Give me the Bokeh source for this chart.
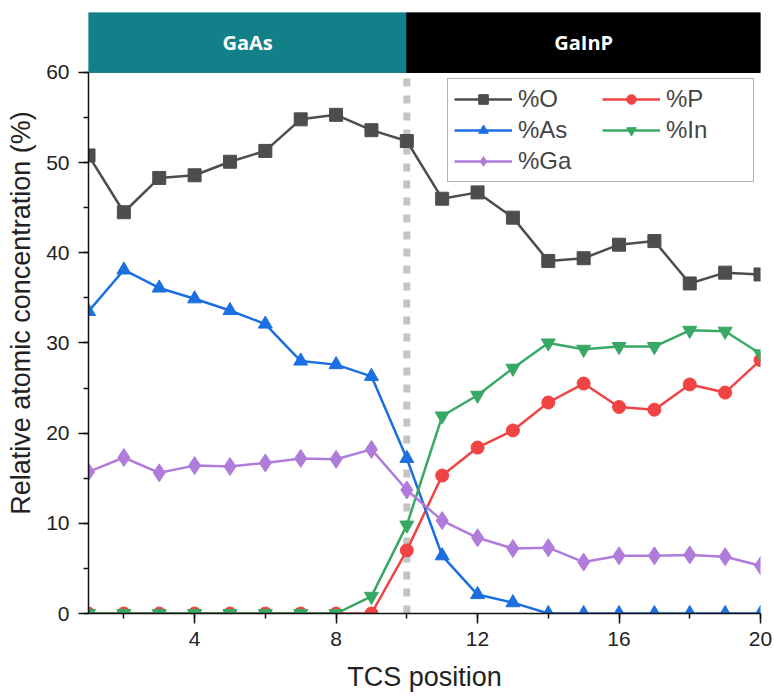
from bokeh.plotting import figure
from bokeh.models import (Range1d, Legend, LegendItem, SingleIntervalTicker, ColumnDataSource)
from bokeh.core.properties import value
from bokeh.embed import file_html
from bokeh.resources import INLINE

# ---- data ----
tcs = list(range(1, 21))
pct_O = [50.8, 44.5, 48.3, 48.6, 50.1, 51.3, 54.8, 55.3, 53.6, 52.4,
         46.0, 46.7, 43.9, 39.1, 39.4, 40.9, 41.3, 36.6, 37.8, 37.6]
pct_P = [0, 0, 0, 0, 0, 0, 0, 0, 0, 7.0,
         15.3, 18.4, 20.3, 23.4, 25.5, 22.9, 22.6, 25.4, 24.5, 28.1]
pct_As = [33.5, 38.1, 36.1, 34.9, 33.6, 32.1, 28.0, 27.6, 26.3, 17.2,
          6.4, 2.1, 1.2, 0, 0, 0, 0, 0, 0, 0]
pct_In = [0, 0, 0, 0, 0, 0, 0, 0, 1.9, 9.8,
          21.9, 24.2, 27.2, 30.0, 29.3, 29.6, 29.6, 31.4, 31.3, 28.8]
pct_Ga = [15.7, 17.3, 15.6, 16.4, 16.3, 16.7, 17.2, 17.1, 18.2, 13.7,
          10.3, 8.4, 7.2, 7.3, 5.7, 6.4, 6.4, 6.5, 6.3, 5.3]
regions = ["GaAs", "GaInP"]
region_start = [1, 10]
region_end = [10, 20]
boundary = 10
y_max = 60

# ---- layout constants ----
W, H = 774, 698
BANNER = 6.65   # banner height in y units above the axis top
FONT = "Liberation Sans"

p = figure(width=W, height=H, output_backend="svg", toolbar_location=None,
           x_range=Range1d(1, 20), y_range=Range1d(0, y_max + BANNER),
           min_border_left=88, min_border_right=14, min_border_top=12, min_border_bottom=85)
p.outline_line_color = None
p.xgrid.visible = False
p.ygrid.visible = False
p.background_fill_color = "white"

# dotted boundary
p.segment(x0=[boundary], y0=[0], x1=[boundary], y1=[y_max], line_color="#c4c4c4",
          line_width=7, line_dash="8 9")

# banner
bsrc = ColumnDataSource(dict(left=region_start, right=region_end,
                             bottom=[y_max] * 2, top=[y_max + BANNER] * 2,
                             color=["#128088", "#000000"], name=regions,
                             xc=[(a + b) / 2 for a, b in zip(region_start, region_end)],
                             yc=[y_max + BANNER / 2] * 2))
p.quad(left="left", right="right", bottom="bottom", top="top", fill_color="color",
       line_color="color", source=bsrc)
p.text(x="xc", y="yc", text="name", source=bsrc, text_color="white",
       text_font=value("Open Sans"), text_font_style="bold", text_font_size="20px",
       text_align="center", text_baseline="middle")

series = [
    ("%O", pct_O, "#4d4d4d", "square", 13),
    ("%P", pct_P, "#f04343", "circle", 13),
    ("%As", pct_As, "#1c6fe0", "triangle", 14),
    ("%In", pct_In, "#38a865", "inverted_triangle", 14),
    ("%Ga", pct_Ga, "#b07cdc", "diamond", 18),
]
items = {}
for name, vals, col, mk, sz in series:
    r1 = p.line(tcs, vals, line_color=col, line_width=2.5)
    r2 = p.scatter(tcs, vals, marker=mk, size=sz, fill_color=col, line_color=col)
    items[name] = [r1, r2]

# legend fills column by column: first column O, As, Ga; second column P, In
order = ["%O", "%As", "%Ga", "%P", "%In"]
legend = Legend(items=[LegendItem(label=n, renderers=items[n]) for n in order],
                location=(359, 431), ncols=2, orientation="vertical")
legend.label_text_font = FONT
legend.label_text_font_size = "24px"
legend.glyph_width = 58
legend.glyph_height = 24
legend.label_height = 24
legend.label_width = 81
legend.label_standoff = 6
legend.spacing = 3
legend.padding = 6
legend.margin = 0
legend.border_line_color = "#666666"
legend.border_line_width = 1
legend.background_fill_alpha = 1
p.add_layout(legend)

# axes
xa = p.xaxis[0]
xa.ticker = SingleIntervalTicker(interval=4, num_minor_ticks=2)
ya = p.yaxis[0]
ya.ticker = SingleIntervalTicker(interval=10, num_minor_ticks=2)
ya.bounds = (0, y_max)
xa.axis_label = "TCS position"
ya.axis_label = "Relative atomic concentration (%)"
for a in (xa, ya):
    a.axis_label_text_font = FONT
    a.axis_label_text_font_size = "27px"
    a.axis_label_text_font_style = "normal"
    a.axis_label_text_color = "#222222"
    a.major_label_text_font = FONT
    a.major_label_text_font_size = "21px"
    a.major_label_text_color = "#222222"
    a.axis_line_color = "#111111"
    a.axis_line_width = 1.5
    a.major_tick_line_color = "#111111"
    a.minor_tick_line_color = "#111111"
    a.major_tick_line_width = 1.5
    a.minor_tick_line_width = 1.5
    a.major_tick_out = 10
    a.major_tick_in = 0
    a.minor_tick_out = 5
    a.minor_tick_in = 0
xa.major_label_standoff = 8
xa.axis_label_standoff = 13
ya.major_label_standoff = 9
ya.axis_label_standoff = 7

open("out.html", "w").write(file_html(p, INLINE))
